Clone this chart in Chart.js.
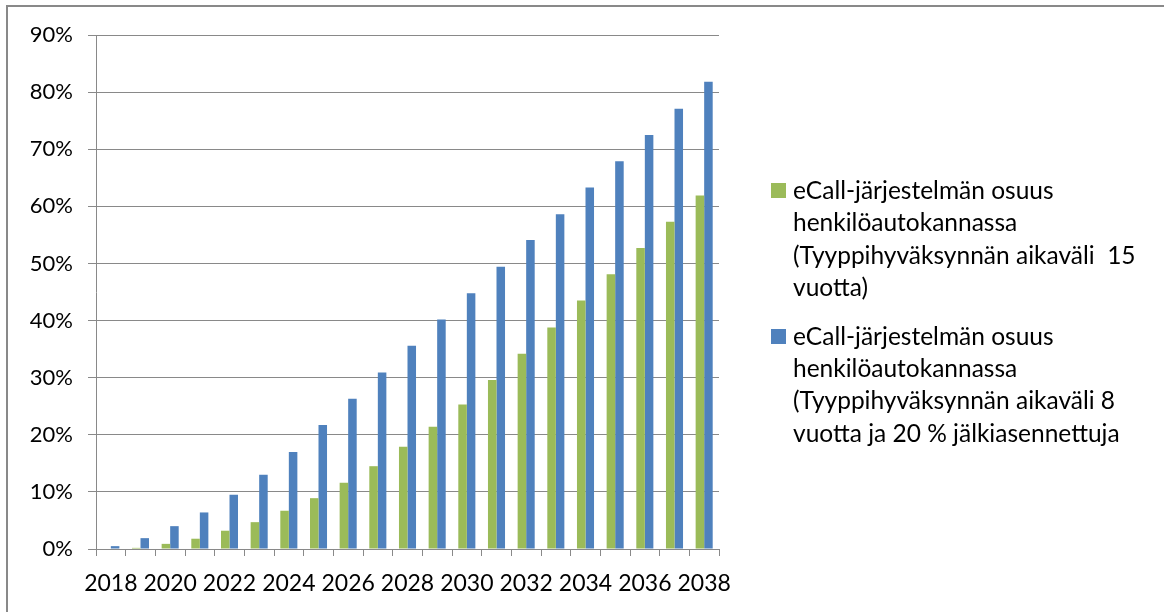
<!DOCTYPE html>
<html lang="fi">
<head>
    <meta charset="UTF-8">
    <title>eCall-järjestelmän osuus henkilöautokannassa</title>
    <script src="https://cdn.jsdelivr.net/npm/chart.js"></script>

    <style>
        * { margin: 0; padding: 0; box-sizing: border-box; }
        body { background: #ffffff; width: 1164px; height: 612px; overflow: hidden; font-family: 'Lato', sans-serif; }

        /* whole chart box, only top and left edges are visible */
        .frame {
            position: absolute; left: 6px; top: 5px; width: 1170px; height: 620px;
            border-top: 2px solid #898989; border-left: 2px solid #898989;
        }
        .chart-wrap { position: absolute; left: 0; top: 0; width: 1164px; height: 612px; }

        /* legend on the right, drawn as html text */
        .legend { position: absolute; left: 771px; top: 174px; color: #000; font-size: 24.5px; line-height: 32.4px; }
        .legend-item { display: flex; align-items: flex-start; margin-bottom: 16px; }
        .legend-box { width: 15px; height: 15px; margin-top: 9px; margin-right: 7px; flex: none; }
        .legend-text { white-space: nowrap; }
    </style>
</head>
<body>

    <div class="frame"></div>
    <div class="chart-wrap">
        <canvas id="ecallChart"></canvas>
    </div>

    <div class="legend">
        <div class="legend-item">
            <span class="legend-box" style="background:#9bbb59"></span>
            <span class="legend-text">eCall-järjestelmän osuus<br>henkilöautokannassa<br>(Tyyppihyväksynnän aikaväli&nbsp; 15<br>vuotta)</span>
        </div>
        <div class="legend-item">
            <span class="legend-box" style="background:#4f81bd"></span>
            <span class="legend-text">eCall-järjestelmän osuus<br>henkilöautokannassa<br>(Tyyppihyväksynnän aikaväli 8<br>vuotta ja 20 % jälkiasennettuja</span>
        </div>
    </div>

    <script>
        // data (percent)
        const years = ['2018', '2019', '2020', '2021', '2022', '2023', '2024', '2025', '2026', '2027', '2028',
                       '2029', '2030', '2031', '2032', '2033', '2034', '2035', '2036', '2037', '2038'];
        const share15 = [0, 0.2, 0.9, 1.8, 3.2, 4.7, 6.7, 8.9, 11.6, 14.5, 17.9,
                         21.4, 25.3, 29.6, 34.2, 38.8, 43.5, 48.1, 52.7, 57.3, 61.9];
        const share8 = [0.5, 1.9, 4.0, 6.4, 9.5, 13.0, 17.0, 21.7, 26.3, 30.9, 35.6,
                        40.2, 44.8, 49.4, 54.1, 58.6, 63.3, 67.9, 72.5, 77.1, 81.8];
        const yTicks = [0, 10, 20, 30, 40, 50, 60, 70, 80, 90];

        const axisGray = '#898989';

        const ctx = document.getElementById('ecallChart').getContext('2d');
        const chart = new Chart(ctx, {
            type: 'bar',
            data: {
                labels: years,
                datasets: [
                    { label: 'eCall 15 vuotta', data: share15, backgroundColor: '#9bbb59' },
                    { label: 'eCall 8 vuotta', data: share8, backgroundColor: '#4f81bd' }
                ]
            },
            options: {
                responsive: true,
                maintainAspectRatio: false,
                animation: false,
                categoryPercentage: 0.575,
                barPercentage: 1.0,
                layout: { padding: { left: 0, right: 445, top: 35, bottom: 0 } },
                plugins: { legend: { display: false }, tooltip: { enabled: false } },
                scales: {
                    x: {
                        grid: { offset: true, drawOnChartArea: false, tickLength: 7, color: axisGray },
                        border: { color: axisGray },
                        ticks: {
                            autoSkip: false, maxRotation: 0, padding: 14, color: '#000',
                            font: { family: 'Lato', size: 23 },
                            // label only every other year
                            callback: (v, i) => (i % 2 === 0 ? years[i] : '')
                        },
                        afterFit: (scale) => { scale.height = 63; }
                    },
                    y: {
                        min: 0, max: 90,
                        grid: { color: axisGray, tickLength: 8 },
                        border: { color: axisGray },
                        afterBuildTicks: (scale) => { scale.ticks = yTicks.map(v => ({ value: v })); },
                        ticks: {
                            padding: 15, color: '#000',
                            font: { family: 'Lato', size: 22 },
                            callback: (v) => v + '%'
                        },
                        afterFit: (scale) => { scale.width = 96; }
                    }
                }
            }
        });
    </script>
</body>
</html>
